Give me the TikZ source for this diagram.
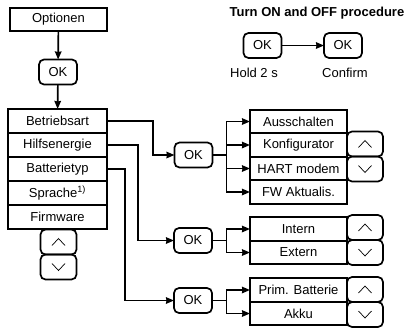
\documentclass[tikz,border=0pt]{standalone}
\usepackage{fontspec}
\setmainfont{Liberation Sans}
\usetikzlibrary{arrows.meta,positioning}

\begin{document}
\begin{tikzpicture}[->,>={Stealth[length=8pt,width=6.5pt,inset=0.5pt]},x=1pt,y=-1pt,line width=1.7pt,
  every node/.style={font=\fontsize{13}{15}\selectfont},
  item/.style={draw,rectangle,outer sep=0pt,inner sep=0pt},
  mainitem/.style={item,minimum width=99pt,minimum height=24pt},
  subitem/.style={item,minimum width=97pt,minimum height=23.5pt},
  okbtn/.style={draw,rounded corners=5pt,outer sep=0pt,inner sep=0pt,minimum width=38pt,minimum height=25pt},
  updown/.style={okbtn,minimum width=36pt},
  upbtn/.style={updown,path picture={\draw[-,line width=0.7pt,sharp corners]
      ([shift={(-6.5pt,-3.5pt)}]path picture bounding box.center) -- ++(6.5pt,7pt) -- ++(6.5pt,-7pt);}},
  downbtn/.style={updown,path picture={\draw[-,line width=0.7pt,sharp corners]
      ([shift={(-6.5pt,3.5pt)}]path picture bounding box.center) -- ++(6.5pt,-7pt) -- ++(6.5pt,7pt);}}]
  \useasboundingbox (0,0) rectangle (410,333);

  % Options menu
  \node[item,minimum width=97pt,minimum height=23pt] (opt) at (58.5,19.5) {Optionen};
  \node[okbtn]    (ok main)                          at (58,72)   {OK};
  \node[mainitem] (betrieb)                          at (57.5,121) {Betriebsart};
  \node[mainitem] (hilfs)    [below=0pt of betrieb]              {Hilfsenergie};
  \node[mainitem] (batt)     [below=0pt of hilfs]                {Batterietyp};
  \node[mainitem] (sprache)  [below=0pt of batt]                 {Sprache\textsuperscript{1)}};
  \node[mainitem] (firmware) [below=0pt of sprache]              {Firmware};
  \node[upbtn]    (main up)                          at (58.5,242) {};
  \node[downbtn]  (main down) [below=0pt of main up]             {};
  \path (opt) edge (ok main)
        (ok main) edge (betrieb);

  % Turn ON and OFF procedure
  \node[font=\fontsize{13}{15}\selectfont\bfseries] (title) at (317,13) {Turn ON and OFF procedure};
  \node[okbtn] (ok hold)    at (262.5,45.5) {OK};
  \node[okbtn] (ok confirm) at (343,45.5)   {OK};
  \node (hold)    at (254,73) {Hold 2 s};
  \node (confirm) at (345,73) {Confirm};
  \path (ok hold) edge (ok confirm);

  % Betriebsart submenu
  \node[okbtn]   (ok 1)                       at (193.5,155)   {OK};
  \node[subitem] (aus)                        at (298.5,121.5) {Ausschalten};
  \node[subitem] (konf) [below=0pt of aus]                     {Konfigurator};
  \node[subitem] (hart) [below=0pt of konf]                    {HART modem};
  \node[subitem] (fw)   [below=0pt of hart]                    {FW Aktualis.};
  \node[upbtn]   (up 1)                       at (365,144)     {};
  \node[downbtn] (down 1) [below=0pt of up 1]                  {};
  \draw (betrieb.east) -- ++(46,0) |- (ok 1.west);
  \draw[-] (ok 1.east) -- ++(14,0) coordinate (fan 1);
  \foreach \n in {aus,konf,hart,fw}
    \draw (fan 1) |- (\n.west);

  % Hilfsenergie submenu
  \node[okbtn]   (ok 2)                       at (193,240.5) {OK};
  \node[subitem] (intern)                     at (298.5,229) {Intern};
  \node[subitem] (extern) [below=0pt of intern]              {Extern};
  \node[upbtn]   (up 2)                       at (365,227.5) {};
  \node[downbtn] (down 2) [below=0pt of up 2]                {};
  \draw (hilfs.east) -- ++(31,0) |- (ok 2.west);
  \draw[-] (ok 2.east) -- ++(14.5,0) coordinate (fan 2);
  \foreach \n in {intern,extern}
    \draw (fan 2) |- (\n.west);

  % Batterietyp submenu
  \node[okbtn]   (ok 3)                       at (193,300.5) {OK};
  \node[subitem] (prim)                       at (298.5,290) {Prim. Batterie};
  \node[subitem] (akku) [below=0pt of prim]                  {Akku};
  \node[upbtn]   (up 3)                       at (365,289.5) {};
  \node[downbtn] (down 3) [below=0pt of up 3]                {};
  \draw (batt.east) -- ++(18,0) |- (ok 3.west);
  \draw[-] (ok 3.east) -- ++(14.5,0) coordinate (fan 3);
  \foreach \n in {prim,akku}
    \draw (fan 3) |- (\n.west);
\end{tikzpicture}
\end{document}
